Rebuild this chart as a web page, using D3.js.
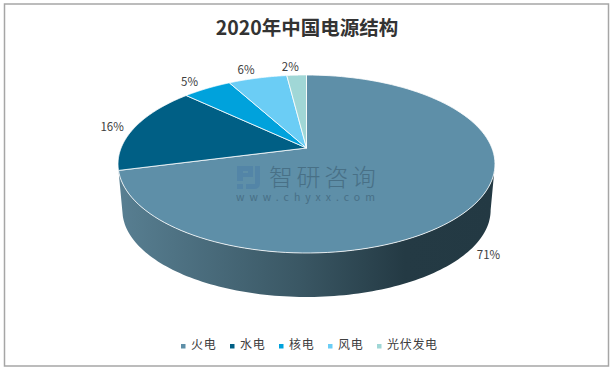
<!DOCTYPE html>
<html>
<head>
<meta charset="utf-8">
<script src="https://cdn.jsdelivr.net/npm/d3@7"></script>
<style>
html, body { margin: 0; padding: 0; background: #fff; }
text { font-family: "Noto Sans CJK SC", "Noto Sans", sans-serif; }
</style>
</head>
<body>
<div id="chart"></div>
<script>
const titleText = "2020年中国电源结构";
const categories = ["火电", "水电", "核电", "风电", "光伏发电"];
const shares = [71, 16, 5, 6, 2];
const colors = ["#5e8fa8", "#005f85", "#00a2dc", "#6bcdf5", "#a0d7d6"];

const width = 613, height = 370;

const svg = d3.select("#chart").append("svg")
    .attr("width", width)
    .attr("height", height)
    .style("display", "block");

// outer frame
svg.append("rect")
    .attr("x", 4.5).attr("y", 4)
    .attr("width", 604).attr("height", 362)
    .attr("fill", "#fff")
    .attr("stroke", "#a6a6a6")
    .attr("stroke-width", 1.5);

svg.append("text")
    .attr("x", 307).attr("y", 34.5)
    .attr("text-anchor", "middle")
    .attr("font-size", "19.5px")
    .attr("font-weight", "bold")
    .attr("fill", "#333")
    .text(titleText);

// tilted disc: circle angle -> screen point, far side is smaller
const cx = 306.5, hubY = 148, rimA = 185.4, rimB = 86.1, tilt = 0.18;
const depth = 46.4, floorScale = 0.977;

function rim(a) {
    const u = Math.sin(a), v = Math.cos(a), w = 1 + tilt * v;
    return [cx + rimA * u / w, hubY - rimB * v / w];
}
function floorRim(a) {
    const p = rim(a);
    return [cx + floorScale * (p[0] - cx), hubY + depth + floorScale * (p[1] - hubY)];
}
function arcPoints(f, a0, a1) {
    return d3.range(0, 121).map(i => f(a0 + (a1 - a0) * i / 120));
}

const line = d3.line();
const pie = d3.pie().sort(null).value(d => d);
const slices = pie(shares);

// side wall, only the front of the first slice shows
const grad = svg.append("defs").append("linearGradient")
    .attr("id", "wallGrad")
    .attr("gradientUnits", "userSpaceOnUse")
    .attr("x1", 118).attr("x2", 495).attr("y1", 0).attr("y2", 0);
[[0, "#587f92"], [0.48, "#3a5764"], [0.76, "#243a44"], [1, "#233943"]].forEach(s => {
    grad.append("stop").attr("offset", s[0]).attr("stop-color", s[1]);
});

const wallStart = Math.acos(-tilt);
const wallEnd = slices[0].endAngle;
svg.append("path")
    .attr("d", line(arcPoints(rim, wallStart, wallEnd).concat(arcPoints(floorRim, wallEnd, wallStart))) + "Z")
    .attr("fill", "url(#wallGrad)");

// top face
svg.append("g").selectAll("path")
    .data(slices)
    .join("path")
        .attr("d", d => line([[cx, hubY]].concat(arcPoints(rim, d.startAngle, d.endAngle))) + "Z")
        .attr("fill", (d, i) => colors[i])
        .attr("stroke", "#fff")
        .attr("stroke-width", 0.8)
        .attr("stroke-linejoin", "round");

// watermark
const mark = svg.append("g");
mark.append("path")
    .attr("d", "M237 166H253V177H243V181H237ZM243 171V173H248V171ZM255 166H260V183Q260 189 254 189H246V184H255ZM237 184H243V189H237Z")
    .attr("fill", "#4c7fa6")
    .attr("fill-rule", "evenodd")
    .attr("opacity", 0.6);
mark.append("text")
    .attr("x", 269).attr("y", 186)
    .attr("font-size", "24px")
    .attr("font-weight", 300)
    .attr("letter-spacing", "3.6px")
    .attr("fill", "#3f6378")
    .attr("opacity", 0.7)
    .text("智研咨询");
mark.append("text")
    .attr("x", 236).attr("y", 201)
    .attr("font-size", "10.5px")
    .attr("letter-spacing", "5px")
    .attr("fill", "#3f6378")
    .attr("opacity", 0.7)
    .text("www.chyxx.com");

// percent labels sit just outside the rim
svg.append("g").selectAll("text")
    .data(slices)
    .join("text")
        .attr("x", d => {
            const a = (d.startAngle + d.endAngle) / 2, v = Math.cos(a);
            return rim(a)[0] + 22 * Math.sin(a) - 5 * Math.max(v, 0);
        })
        .attr("y", d => {
            const a = (d.startAngle + d.endAngle) / 2, v = Math.cos(a);
            return rim(a)[1] - 10 * v + (v < 0 ? 40.5 : 0) + 5.5;
        })
        .attr("text-anchor", "middle")
        .attr("font-size", "11.5px")
        .attr("fill", "#404040")
        .text(d => d.value + "%");

// legend
const legendX = d3.scaleLinear().domain([0, 1]).range([181, 230]);
const legend = svg.append("g").selectAll("g")
    .data(categories)
    .join("g")
        .attr("transform", (d, i) => `translate(${legendX(i)},344)`);
legend.append("rect")
    .attr("width", 4.5).attr("height", 4.5)
    .attr("fill", (d, i) => colors[i]);
legend.append("text")
    .attr("x", 10).attr("y", 5)
    .attr("font-size", "12px")
    .attr("letter-spacing", "0.7px")
    .attr("fill", "#404040")
    .text(d => d);
</script>
</body>
</html>
